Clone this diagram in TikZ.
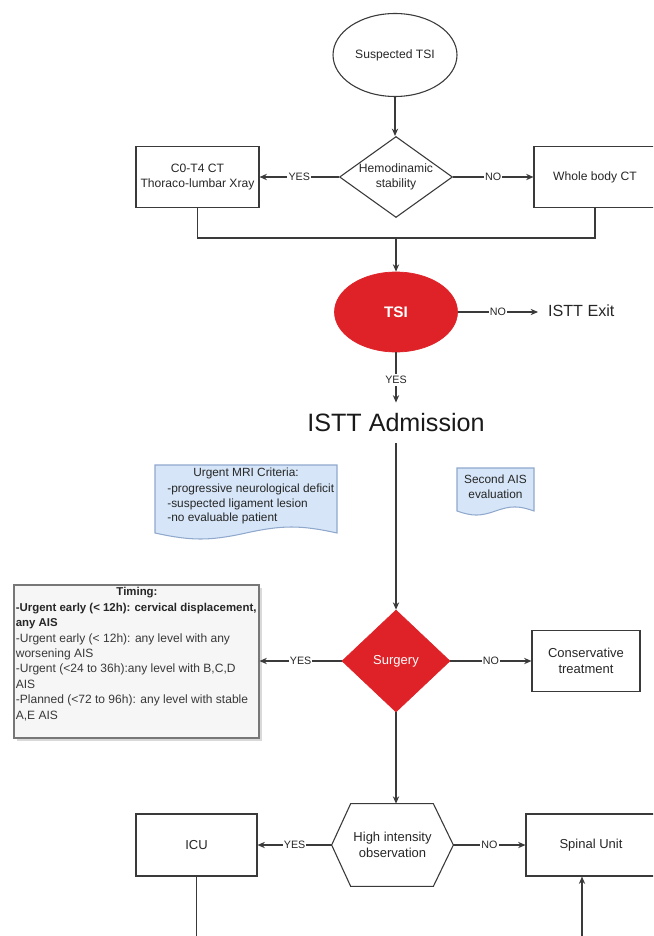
\documentclass[tikz,border=0pt]{standalone}
\usepackage{fontspec}
\setmainfont{Liberation Sans}
\usetikzlibrary{shapes.geometric,arrows.meta,calc}
\definecolor{lc}{HTML}{3A3A3A}
\definecolor{txt}{HTML}{262626}
\definecolor{tsired}{HTML}{DF2227}
\definecolor{docfill}{HTML}{D6E6F8}
\definecolor{docline}{HTML}{8FA8CC}
\definecolor{timfill}{HTML}{F6F6F6}
\definecolor{timline}{HTML}{777777}
\newcommand{\myfA}{\fontsize{6.9pt}{8.5pt}\selectfont}
\newcommand{\myfL}{\fontsize{6.1pt}{7pt}\selectfont}
\newcommand{\myfB}{\fontsize{7.4pt}{9.4pt}\selectfont}
\newcommand{\myfT}{\fontsize{8.7pt}{10pt}\selectfont\bfseries}
\newcommand{\myfE}{\fontsize{9.2pt}{11pt}\selectfont}
\newcommand{\myfAd}{\fontsize{14.3pt}{17pt}\selectfont}
\newcommand{\myfD}{\fontsize{6.75pt}{8.33pt}\selectfont}
\newcommand{\myfTi}{\fontsize{6.85pt}{8.73pt}\selectfont}
\newcommand{\myfTb}{\fontsize{6.5pt}{8.73pt}\selectfont\bfseries}
\begin{document}
\begin{tikzpicture}[x=0.02cm,y=-0.02cm,
  line/.style={draw=lc, line width=0.62pt},
  arr/.style={line, -{Stealth[length=4.2pt,width=3.6pt]}},
  box/.style={rectangle, draw=lc, line width=0.62pt, inner sep=0pt, align=center, text=txt},
  lbl/.style={fill=white, inner xsep=0.6pt, inner ysep=1pt, font=\myfL, text=txt},
  plain/.style={inner sep=0pt, align=center, text=txt}
]
\useasboundingbox (0,0) rectangle (653,936);
\clip (0,0) rectangle (653,936);

% top
\node[ellipse, draw=lc, line width=0.62pt, minimum width=2.48cm, minimum height=1.66cm, inner sep=0pt, font=\myfA, text=txt] (sus) at (395,55) {Suspected TSI};
\node[diamond, draw=lc, line width=0.62pt, minimum width=2.26cm, minimum height=1.62cm, inner sep=0pt] (hemo) at (396,177) {};
\node[plain, font=\myfA] (hemot) at (hemo) {Hemodinamic\\stability};
\node[box, font=\myfA, minimum width=2.46cm, minimum height=1.22cm] (c0) at (197.5,177) {C0-T4 CT\\Thoraco-lumbar Xray};
\node[box, font=\myfA, minimum width=2.44cm, minimum height=1.22cm] (wb) at (595,177) {Whole body CT};
\coordinate (mg) at (396,238);

\draw[arr] (sus.south) -- (sus.south |- hemo.north);
\draw[arr] (hemo.west) -- node[lbl]{YES} (c0.east);
\draw[arr] (hemo.east) -- node[lbl]{NO} (wb.west);
\draw[line] (c0.south) |- (mg);
\draw[line] (wb.south) |- (mg);

% TSI
\node[ellipse, fill=tsired, draw=tsired, minimum width=2.46cm, minimum height=1.6cm, inner sep=0pt, font=\myfT, text=white] (tsi) at (396,312) {TSI};
\node[anchor=west, inner xsep=5.5pt, inner ysep=0pt, font=\myfE, text=txt] (exit) at (538,311) {ISTT Exit};
\node[inner xsep=0pt, inner ysep=6.2pt, font=\myfAd, text=black!90] (adm) at (396,423) {ISTT Admission};

\draw[arr] (mg) -- (mg |- tsi.north);
\draw[arr] (tsi.east) -- node[lbl]{NO} (tsi.east -| exit.west);
\draw[arr] (tsi.south) -- node[lbl, pos=0.55]{YES} (tsi.south |- adm.north);

% document shapes
\draw[docline, fill=docfill, line width=0.6pt] (155,465) -- (337,465) -- (337,533)
  .. controls (300.6,525) and (282.4,525) .. (246,533)
  .. controls (209.6,541) and (191.4,541) .. (155,533) -- cycle;
\node[plain, font=\myfD] (mrititle) at (246,473) {Urgent MRI Criteria:};
\node[anchor=north west, inner sep=0pt, align=left, font=\myfD, text=txt] (mribody) at (167,483.5) {-progressive neurological deficit\\-suspected ligament lesion\\-no evaluable patient};

\draw[docline, fill=docfill, line width=0.6pt] (457,468) -- (534,468) -- (534,511)
  .. controls (518.6,505.6) and (510.9,505.6) .. (495.5,511)
  .. controls (480.1,516.4) and (472.4,516.4) .. (457,511) -- cycle;
\node[plain, font=\myfD] (aistxt) at (495.5,486.5) {Second AIS\\evaluation};

% Surgery
\node[diamond, fill=tsired, draw=tsired, minimum width=2.16cm, minimum height=2.04cm, inner sep=0pt] (surg) at (396,661) {};
\node[plain, font=\myfB, text=white] (surgt) at (surg) {Surgery};
\node[box, font=\myfB, minimum width=2.16cm, minimum height=1.22cm] (cons) at (586,661) {Conservative\\treatment};

\fill[black!15] (17,588) rectangle (262,741);
\node[rectangle, draw=timline, fill=timfill, line width=0.6pt, minimum width=4.9cm, minimum height=3.06cm, inner sep=0pt] (timing) at (136.5,661.5) {};
\node[plain, font=\myfTb] (timt) at (137,593) {Timing:};
\node[anchor=north west, inner sep=0pt, align=left, font=\myfTi, text=black!78] (timb) at (15.5,603) {{\myfTb\color{txt}-Urgent early (< 12h): cervical displacement,}\\{\myfTb\color{txt}any AIS}\\-Urgent early (< 12h): any level with any\\worsening AIS\\-Urgent (<24 to 36h):any level with B,C,D\\AIS\\-Planned (<72 to 96h): any level with stable\\A,E AIS};

\draw[arr] (adm.south) -- (adm.south |- surg.north);
\draw[arr] (surg.west) -- node[lbl]{YES} (surg.west -| timing.east);
\draw[arr] (surg.east) -- node[lbl]{NO} (cons.west);

% bottom
\node[rectangle, minimum width=2.42cm, minimum height=1.64cm, inner sep=0pt, align=center, font=\myfB, text=txt] (hex) at (392.5,845) {High intensity\\observation};
\draw[line] ($(hex.north west)+(19,0)$) -- ($(hex.north east)+(-20,0)$) -- (hex.east)
  -- ($(hex.south east)+(-20,0)$) -- ($(hex.south west)+(19,0)$) -- (hex.west) -- cycle;
\node[box, font=\myfB, minimum width=2.42cm, minimum height=1.24cm] (icu) at (196.5,845) {ICU};
\node[box, font=\myfB, minimum width=2.6cm, minimum height=1.24cm] (spu) at (591,845) {Spinal Unit};
\coordinate (icuend) at (196.5,950);
\coordinate (spuend) at (582,950);

\draw[arr] (surg.south) -- (surg.south |- hex.north);
\draw[arr] (hex.west) -- node[lbl]{YES} (icu.east);
\draw[arr] (hex.east) -- node[lbl]{NO} (spu.west);
\draw[line] (icu.south) -- (icuend);
\draw[arr] (spuend) -- (spuend |- spu.south);
\end{tikzpicture}
\end{document}
